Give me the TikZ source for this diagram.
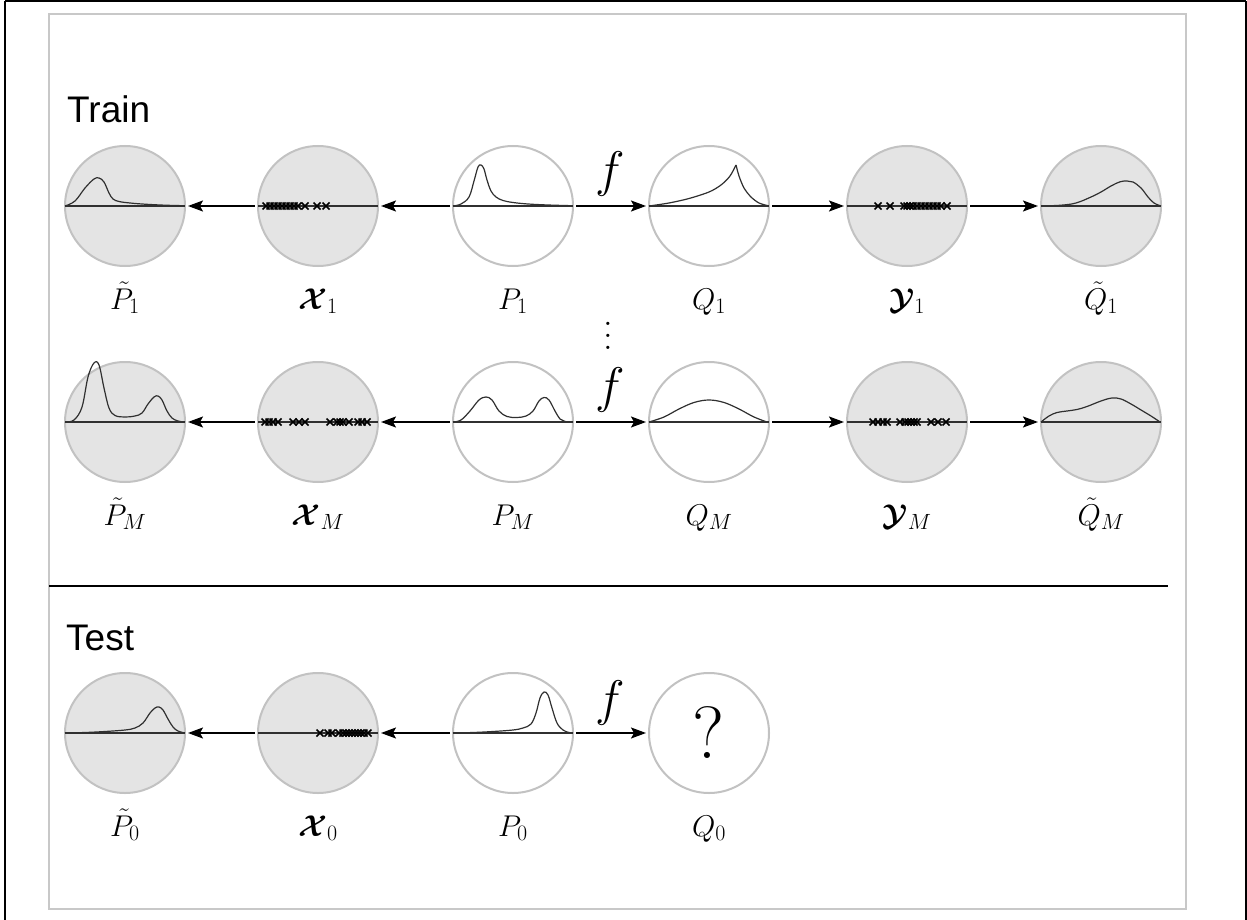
\RequirePackage{fix-cm}
\documentclass[tikz,border=0pt]{standalone}
\usepackage{amsmath}
\usepackage{bm}
\usepackage{fontspec}
\newfontfamily\sansf{Liberation Sans}
\usetikzlibrary{arrows.meta}
\DeclareMathSizes{30}{30}{22}{16}
\definecolor{fillgray}{HTML}{E4E4E4}
\definecolor{bordergray}{HTML}{C2C2C2}
\definecolor{framegray}{HTML}{C8C8C8}
\definecolor{curvec}{HTML}{303030}
\tikzset{
  gc/.style={circle, draw=bordergray, fill=fillgray, line width=2pt, minimum size=120pt, inner sep=0pt, outer sep=0pt},
  wc/.style={circle, draw=bordergray, fill=white, line width=2pt, minimum size=120pt, inner sep=0pt, outer sep=0pt},
  ax/.style={draw=curvec, line width=1.2pt},
  crv/.style={draw=curvec, line width=1.2pt, line join=round},
  xm/.style={draw=black, line width=1.5pt},
  arr/.style={-{Stealth[length=15pt,width=11pt,inset=3pt]}, line width=1.5pt, shorten >=3pt, shorten <=3pt},
  lab/.style={inner sep=0pt, anchor=base, font=\fontsize{30}{36}\selectfont},
  flab/.style={inner sep=0pt, font=\fontsize{50}{58}\selectfont},
  hd/.style={inner sep=0pt, anchor=base west, font=\sansf\fontsize{37}{44}\selectfont},
}
\begin{document}
\begin{tikzpicture}[x=1pt,y=-1pt]
\useasboundingbox (0,0) rectangle (1247,920);
% frames
\draw[black, line width=2pt] (5,1.5) -- (1245.5,1.5);
\draw[black, line width=2pt] (5,1.5) -- (5,925);
\draw[black, line width=2pt] (1245.5,1.5) -- (1245.5,925);
\draw[framegray, line width=2pt] (49,14) rectangle (1186,909);

% headings
\node[hd] (train) at (67,123) {Train};
\node[hd] (test) at (66,650) {Test};

% separator
\coordinate (sepL) at (49,586);
\coordinate (sepR) at (1168,586);
\draw[black, line width=2pt] (sepL) -- (sepR);

% ---------- row 1 ----------
\node[gc] (pt1) at (125,206) {};
\node[gc] (x1)  at (318,206) {};
\node[wc] (p1)  at (513,206) {};
\node[wc] (q1)  at (709,206) {};
\node[gc] (y1)  at (907,206) {};
\node[gc] (qt1) at (1101,206) {};
\foreach \n in {pt1,x1,p1,q1,y1,qt1} \draw[ax] (\n.west) -- (\n.east);

\begin{scope}[shift={(pt1.center)}, yscale=-1]
\draw[crv] plot[smooth, tension=0.6] coordinates {(-60,0) (-50,5) (-40,18) (-31,27) (-26,28) (-21,24) (-16,13) (-12,7) (-6,4.5) (5,3) (20,1.8) (40,0.8) (59,0.3)};
\end{scope}
\begin{scope}[shift={(x1.center)}]
\foreach \p in {-52,-48,-44,-40,-36,-32,-28,-24,-20,-13,-1,8}
  \draw[xm] (\p-3.5,-3.5) -- (\p+3.5,3.5) (\p-3.5,3.5) -- (\p+3.5,-3.5);
\end{scope}
\begin{scope}[shift={(p1.center)}, yscale=-1]
\draw[crv] plot[smooth, tension=0.6] coordinates {(-60,0) (-52,2) (-44,9) (-39,25) (-35,39) (-32,41) (-29,37) (-26,26) (-22,15) (-17,9) (-10,5.5) (0,3.5) (15,2) (35,1) (59,0.3)};
\end{scope}
\begin{scope}[shift={(q1.center)}, yscale=-1]
\draw[crv] plot[smooth, tension=0.5] coordinates {(-60,0) (-40,3) (-20,7.5) (0,14) (12,21) (21,30) (27,41)};
\draw[crv] plot[smooth, tension=0.5] coordinates {(27,41) (30,30) (35,18) (42,9) (50,3) (59,0.3)};
\end{scope}
\begin{scope}[shift={(y1.center)}]
\foreach \p in {-29,-17,-3,0,3,6,10,14,18,22,26,30,34,40}
  \draw[xm] (\p-3.5,-3.5) -- (\p+3.5,3.5) (\p-3.5,3.5) -- (\p+3.5,-3.5);
\end{scope}
\begin{scope}[shift={(qt1.center)}, yscale=-1]
\draw[crv] plot[smooth, tension=0.6] coordinates {(-60,0) (-40,0.8) (-25,3) (-10,9) (0,14) (10,20) (19,24.2) (26,25) (32,24) (40,18) (47,9) (53,3) (60,0)};
\end{scope}

\draw[arr] (x1) -- (pt1);
\draw[arr] (p1) -- (x1);
\draw[arr] (p1) -- (q1);
\draw[arr] (q1) -- (y1);
\draw[arr] (y1) -- (qt1);
\node[flab] (f1) at (610,174) {$f$};

\node[lab] (lpt1) at (125,309) {$\tilde{P}_1$};
\node[lab] (lx1)  at (318,309) {$\boldsymbol{\mathcal{X}}_1$};
\node[lab] (lp1)  at (513,309) {$P_1$};
\node[lab] (lq1)  at (709,309) {$Q_1$};
\node[lab] (ly1)  at (907,309) {$\boldsymbol{\mathcal{Y}}_1$};
\node[lab] (lqt1) at (1101,309) {$\tilde{Q}_1$};

\node[inner sep=0pt, anchor=south] (dots) at (608,350) {\scalebox{3.1}{$\vdots$}};

% ---------- row 2 ----------
\node[gc] (ptm) at (125,422) {};
\node[gc] (xm)  at (318,422) {};
\node[wc] (pm)  at (513,422) {};
\node[wc] (qm)  at (709,422) {};
\node[gc] (ym)  at (907,422) {};
\node[gc] (qtm) at (1101,422) {};
\foreach \n in {ptm,xm,pm,qm,ym,qtm} \draw[ax] (\n.west) -- (\n.east);

\begin{scope}[shift={(ptm.center)}, yscale=-1]
\draw[crv] plot[smooth, tension=0.6] coordinates {(-60,0) (-51,2) (-43,15) (-37,45) (-31,59) (-26,57) (-21,34) (-16,14) (-10,6.5) (0,5) (10,6) (17,9) (23,18) (29,25) (33,26) (37,22) (42,11) (47,4) (53,1) (60,0)};
\end{scope}
\begin{scope}[shift={(xm.center)}]
\foreach \p in {-53,-49,-45,-40,-25,-19,-13,12,19,22,25,31,40,44,49}
  \draw[xm] (\p-3.5,-3.5) -- (\p+3.5,3.5) (\p-3.5,3.5) -- (\p+3.5,-3.5);
\end{scope}
\begin{scope}[shift={(pm.center)}, yscale=-1]
\draw[crv] plot[smooth, tension=0.6] coordinates {(-60,0) (-52,2) (-43,11) (-34,22) (-27,25) (-21,22) (-14,11) (-6,5.5) (4,4.5) (13,6) (20,11) (26,21) (31,24.5) (36,22) (42,11) (47,3) (52,0.5) (60,0)};
\end{scope}
\begin{scope}[shift={(qm.center)}, yscale=-1]
\draw[crv] plot[smooth, tension=0.6] coordinates {(-60,0) (-45,5) (-30,13) (-15,19.5) (0,22) (15,19.5) (30,13) (45,5) (58,0)};
\end{scope}
\begin{scope}[shift={(ym.center)}]
\foreach \p in {-34,-29,-24,-20,-7,-2,1,4,7,10,24,31,39}
  \draw[xm] (\p-3.5,-3.5) -- (\p+3.5,3.5) (\p-3.5,3.5) -- (\p+3.5,-3.5);
\end{scope}
\begin{scope}[shift={(qtm.center)}, yscale=-1]
\draw[crv] plot[smooth, tension=0.6] coordinates {(-60,0) (-52,6) (-44,9.5) (-34,11) (-24,12.5) (-14,15.5) (0,21) (11,24) (20,23) (30,18) (40,12) (50,6) (59,0)};
\end{scope}

\draw[arr] (xm) -- (ptm);
\draw[arr] (pm) -- (xm);
\draw[arr] (pm) -- (qm);
\draw[arr] (qm) -- (ym);
\draw[arr] (ym) -- (qtm);
\node[flab] (fm) at (610,390) {$f$};

\node[lab] (lptm) at (125,525) {$\tilde{P}_M$};
\node[lab] (lxm)  at (318,525) {$\boldsymbol{\mathcal{X}}_M$};
\node[lab] (lpm)  at (513,525) {$P_M$};
\node[lab] (lqm)  at (709,525) {$Q_M$};
\node[lab] (lym)  at (907,525) {$\boldsymbol{\mathcal{Y}}_M$};
\node[lab] (lqtm) at (1101,525) {$\tilde{Q}_M$};

% ---------- row 3 (test) ----------
\node[gc] (pt0) at (125,733) {};
\node[gc] (x0)  at (318,733) {};
\node[wc] (p0)  at (513,733) {};
\node[wc, font=\fontsize{74}{84}\selectfont] (q0) at (709,733) {?};
\foreach \n in {pt0,x0,p0} \draw[ax] (\n.west) -- (\n.east);

\begin{scope}[shift={(pt0.center)}, yscale=-1]
\draw[crv] plot[smooth, tension=0.6] coordinates {(-60,0) (-40,0.5) (-20,1.5) (0,3) (10,5) (18,10) (25,20) (30,25) (34,26) (38,23) (43,14) (48,6) (53,2) (60,0)};
\end{scope}
\begin{scope}[shift={(x0.center)}]
\foreach \p in {2,10,14,21,25,28,31,34,37,40,43,46,50}
  \draw[xm] (\p-3.5,-3.5) -- (\p+3.5,3.5) (\p-3.5,3.5) -- (\p+3.5,-3.5);
\end{scope}
\begin{scope}[shift={(p0.center)}, yscale=-1]
\draw[crv] plot[smooth, tension=0.6] coordinates {(-60,0) (-40,0.5) (-20,1.5) (0,3) (10,5) (18,9) (23,20) (27,35) (31,41) (35,38) (39,25) (44,10) (50,3) (56,0.5) (60,0)};
\end{scope}

\draw[arr] (x0) -- (pt0);
\draw[arr] (p0) -- (x0);
\draw[arr] (p0) -- (q0);
\node[flab] (f0) at (610,703) {$f$};

\node[lab] (lpt0) at (125,836) {$\tilde{P}_0$};
\node[lab] (lx0)  at (318,836) {$\boldsymbol{\mathcal{X}}_0$};
\node[lab] (lp0)  at (513,836) {$P_0$};
\node[lab] (lq0)  at (709,836) {$Q_0$};
\end{tikzpicture}
\end{document}
